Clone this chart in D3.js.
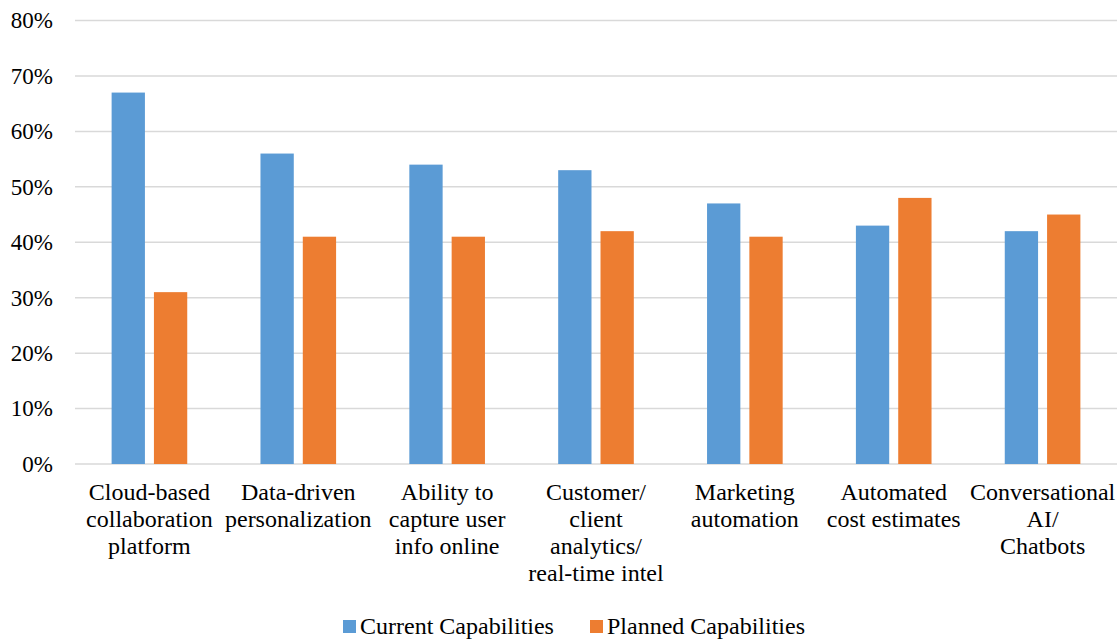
<!DOCTYPE html>
<html>
<head>
<meta charset="utf-8">
<script src="https://cdn.jsdelivr.net/npm/d3@7"></script>
</head>
<body style="margin:0;background:#fff">
<svg id="s" width="1119" height="641" style="display:block"></svg>
<script>
// Category labels (line breaks as in the axis)
const categories = [
  "Cloud-based\ncollaboration\nplatform",
  "Data-driven\npersonalization",
  "Ability to\ncapture user\ninfo online",
  "Customer/\nclient\nanalytics/\nreal-time intel",
  "Marketing\nautomation",
  "Automated\ncost estimates",
  "Conversational\nAI/\nChatbots"
];
const seriesNames = ["Current Capabilities", "Planned Capabilities"];
const currentValues = [67, 56, 54, 53, 47, 43, 42];
const plannedValues = [31, 41, 41, 42, 41, 48, 45];
const yTicks = [0, 10, 20, 30, 40, 50, 60, 70, 80];
const colors = ["#5B9BD5", "#ED7D31"];
const FONT = "Liberation Serif";

const svg = d3.select("#s");
const margin = { left: 75, right: 2, top: 20.5, bottom: 177 };
const W = 1119, H = 641;
const plotW = W - margin.left - margin.right;
const plotH = H - margin.top - margin.bottom;

const g = svg.append("g").attr("transform", `translate(${margin.left},${margin.top})`);

const x0 = d3.scaleBand().domain(d3.range(categories.length)).range([0, plotW]);
const x1 = d3.scaleBand().domain([0, 1])
  .range([x0.bandwidth() * 0.246, x0.bandwidth() * 0.754]).paddingInner(0.213);
const y = d3.scaleLinear().domain([0, 80]).range([plotH, 0]);

// Gridlines
g.append("g").selectAll("line").data(yTicks).join("line")
  .attr("x1", 0).attr("x2", plotW)
  .attr("y1", d => y(d)).attr("y2", d => y(d))
  .attr("stroke", "#D9D9D9").attr("stroke-width", 1.5);

// Y tick labels
const yAxis = d3.axisLeft(y).tickValues(yTicks).tickFormat(d => d + "%").tickSize(0).tickPadding(22);
const ya = g.append("g").call(yAxis);
ya.select(".domain").remove();
ya.attr("font-family", null).attr("font-size", null);
ya.selectAll("text").attr("fill", "#000").style("font-size", "23px");

// Bars
const series = [currentValues, plannedValues];
const groups = g.append("g").selectAll("g").data(categories.map((c, i) => i)).join("g")
  .attr("transform", i => `translate(${x0(i)},0)`);
groups.selectAll("rect").data(i => series.map((s, k) => ({ k, v: s[i] }))).join("rect")
  .attr("x", d => x1(d.k))
  .attr("width", x1.bandwidth())
  .attr("y", d => y(d.v))
  .attr("height", d => y(0) - y(d.v))
  .attr("fill", d => colors[d.k]);

// Category labels
const lineH = 27;
const labels = g.append("g").selectAll("text").data(categories).join("text")
  .attr("text-anchor", "middle")
  .attr("fill", "#000")
  .style("font-size", "24px")
  .attr("transform", (d, i) => `translate(${x0(i) + x0.bandwidth() / 2},${plotH + 35.5})`);
labels.selectAll("tspan").data(d => d.split("\n")).join("tspan")
  .attr("x", 0).attr("dy", (d, j) => j === 0 ? 0 : lineH).text(d => d);

// Legend
const legend = svg.append("g").attr("transform", "translate(343,620)");
const legendX = [0, 247];
seriesNames.forEach((name, k) => {
  legend.append("rect").attr("x", legendX[k]).attr("y", 0).attr("width", 13).attr("height", 13).attr("fill", colors[k]);
  legend.append("text").attr("x", legendX[k] + 17).attr("y", 13.5)
    .attr("fill", "#000").style("font-size", "24px").text(name);
});

// Typeface for every label
svg.selectAll("text").style("font-family", FONT, "important");
</script>
</body>
</html>
